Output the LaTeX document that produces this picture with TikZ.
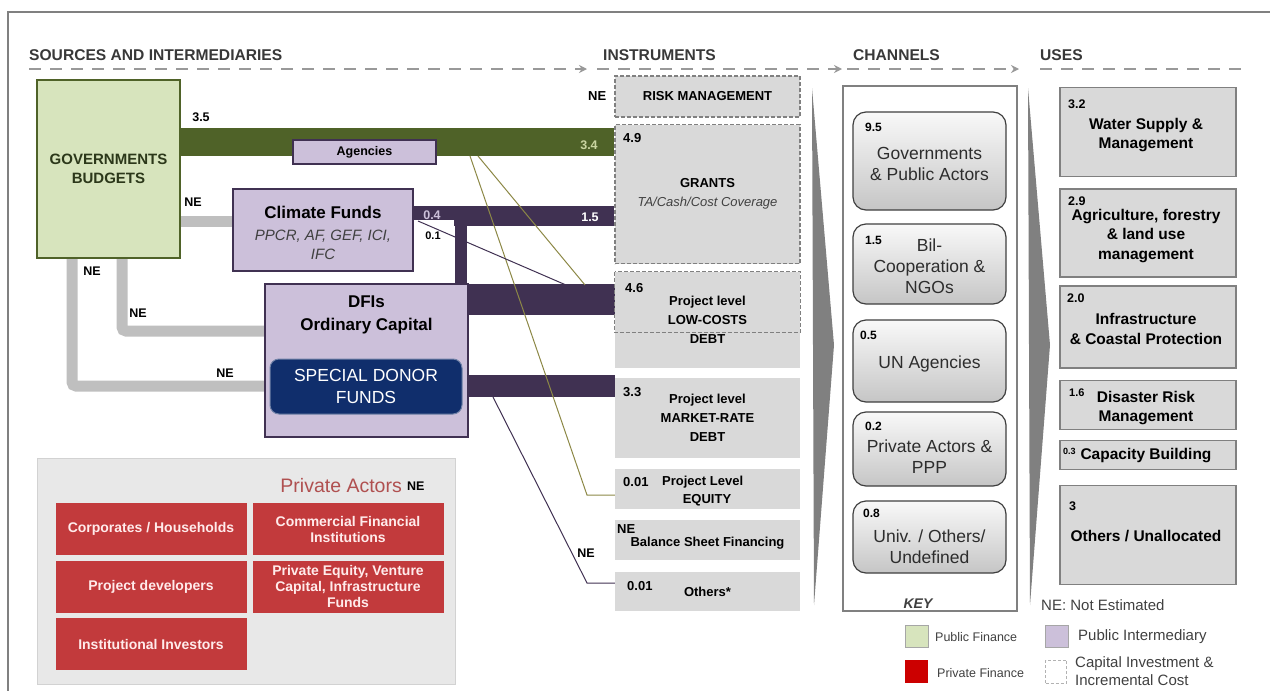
\documentclass[tikz,border=0pt]{standalone}
\usepackage{fontspec}
\setmainfont{Liberation Sans}
\usetikzlibrary{arrows.meta}
\usetikzlibrary{calc}
\usetikzlibrary{backgrounds}
\tikzset{>=latex}
\definecolor{govgreen}{RGB}{215,228,189}
\definecolor{govtext}{RGB}{44,56,26}
\definecolor{bandgreen}{RGB}{79,98,40}
\definecolor{lavender}{RGB}{204,192,218}
\definecolor{bandpurple}{RGB}{64,49,82}
\definecolor{donornavy}{RGB}{16,46,108}
\definecolor{privred}{RGB}{194,58,60}
\definecolor{privtitle}{RGB}{176,80,80}
\definecolor{panelgray}{RGB}{232,232,232}
\definecolor{instgray}{RGB}{217,217,217}
\definecolor{linkgray}{RGB}{191,191,191}
\definecolor{textgray}{RGB}{64,64,64}
\definecolor{chantext}{RGB}{45,45,45}
\definecolor{olivethin}{RGB}{140,136,70}
\tikzstyle{head}=[font=\fontsize{15.6}{18}\selectfont\bfseries, text=black!78, inner sep=0pt, anchor=west]
\tikzstyle{headline}=[draw=gray!80, line width=2.5pt, dash pattern=on 12pt off 9pt]
\tikzstyle{govbox}=[draw=bandgreen, line width=1.5pt, fill=govgreen, align=center, text=govtext, font=\fontsize{15}{19}\selectfont\bfseries]
\tikzstyle{interbox}=[draw=bandpurple, line width=1.5pt, fill=lavender, inner sep=0pt]
\tikzstyle{donorbox}=[draw=donornavy!60, line width=1pt, fill=donornavy, rounded corners=9pt, text=white, align=center, font=\fontsize{17.5}{22}\selectfont]
\tikzstyle{privpanel}=[fill=panelgray, draw=gray!35, line width=1pt]
\tikzstyle{redbox}=[fill=privred, minimum width=191, minimum height=52, text=white!92!red, align=center, inner sep=0pt, font=\fontsize{14}{16}\selectfont\bfseries]
\tikzstyle{instbox}=[fill=instgray, minimum width=185, align=center, inner sep=0pt, font=\fontsize{13}{19}\selectfont\bfseries]
\tikzstyle{dashbox}=[draw=gray, dash pattern=on 4pt off 2pt, line width=1.2pt]
\tikzstyle{chanframe}=[draw=gray, line width=1.5pt, fill=white]
\tikzstyle{chanbox}=[draw=darkgray, line width=1.2pt, rounded corners=13pt, top color=gray!5, bottom color=gray!45, minimum width=153, inner sep=0pt]
\tikzstyle{chantxt}=[align=center, text=chantext, inner sep=0pt, font=\fontsize{17.5}{21}\selectfont]
\tikzstyle{usebox}=[draw=gray, line width=1.8pt, fill=instgray, minimum width=176, inner sep=0pt]
\tikzstyle{usetxt}=[align=center, inner sep=0pt, font=\fontsize{15.5}{19.5}\selectfont\bfseries]
\tikzstyle{numlbl}=[font=\fontsize{13}{15}\selectfont\bfseries, inner sep=0pt, anchor=west]
\tikzstyle{nelbl}=[font=\fontsize{12.5}{15}\selectfont\bfseries, inner sep=0pt]
\tikzstyle{legtext}=[font=\fontsize{15}{18}\selectfont, text=textgray, inner sep=0pt, anchor=west]
\tikzstyle{greenband}=[draw=bandgreen, line width=28]
\tikzstyle{purpleband}=[draw=bandpurple]
\tikzstyle{graylink}=[draw=linkgray, line width=11, rounded corners=4]
\tikzstyle{oliveline}=[draw=olivethin, line width=1pt]
\tikzstyle{thinpurple}=[draw=bandpurple, line width=1pt]

\begin{document}
\begin{tikzpicture}[x=1pt,y=-1pt]
  \useasboundingbox (0,0) rectangle (1270,691);
  \draw[gray, line width=1.5pt] (8,691) -- (8,12) -- (1270,12);

  % headings
  \node[head] (hsrc) at (29,55) {SOURCES AND INTERMEDIARIES};
  \node[head] (hinst) at (603,55) {INSTRUMENTS};
  \node[head] (hchan) at (853,55) {CHANNELS};
  \node[head] (huse) at (1040,55) {USES};
  \coordinate (d0) at (29,69);
  \coordinate (d1) at (587,69);
  \coordinate (d2) at (597,69);
  \coordinate (d3) at (842,69);
  \coordinate (d4) at (847,69);
  \coordinate (d5) at (1019,69);
  \coordinate (d6) at (1040,69);
  \coordinate (d7) at (1242,69);
  \draw[headline,-{Stealth[length=8pt,width=8pt]}] (d0) -- (d1);
  \draw[headline,-{Stealth[length=8pt,width=8pt]}] (d2) -- (d3);
  \draw[headline,-{Stealth[length=8pt,width=8pt]}] (d4) -- (d5);
  \draw[headline] (d6) -- (d7);

  % sources and intermediaries
  \node[govbox, minimum width=143, minimum height=178] (gov) at (108.5,169) {GOVERNMENTS\\BUDGETS};
  \node[interbox, minimum width=143, minimum height=24, font=\fontsize{12.5}{15}\selectfont\bfseries] (agencies) at (364.5,152) {Agencies};
  \node[interbox, minimum width=180, minimum height=82] (cf) at (323,230) {};
  \node[font=\fontsize{17}{21}\selectfont\bfseries, inner sep=0pt] (cft) at (323,212) {Climate Funds};
  \node[font=\fontsize{15}{19}\selectfont\itshape, text=textgray, align=center, inner sep=0pt] (cfs) at (323,245) {PPCR, AF, GEF, ICI,\\IFC};
  \node[interbox, minimum width=203, minimum height=153] (dfi) at (366.5,360.5) {};
  \node[font=\fontsize{17}{23}\selectfont\bfseries, align=center, inner sep=0pt] (dfit) at (366.5,315) {DFIs\\Ordinary Capital};
  \node[donorbox, minimum width=192, minimum height=55] (sdf) at (366,386.5) {SPECIAL DONOR\\FUNDS};

  % private actors
  \node[privpanel, minimum width=418, minimum height=226] (priv) at (246,571) {};
  \node[font=\fontsize{19.5}{22}\selectfont, text=privtitle, inner sep=0pt, anchor=east] (privt) at (402,486) {Private Actors};
  \node[nelbl, anchor=west] (privne) at ($(privt.east)+(5,0)$) {NE};
  \node[redbox] (corp) at (151,529) {Corporates / Households};
  \node[redbox] (comm) at (348,529) {Commercial Financial\\Institutions};
  \node[redbox] (projdev) at (151,586.5) {Project developers};
  \node[redbox] (pe) at (348,586.5) {Private Equity, Venture\\Capital, Infrastructure\\Funds};
  \node[redbox] (inst) at (151,644) {Institutional Investors};

  % instruments
  \node[instbox, dashbox, minimum height=41] (risk) at (707.5,96.5) {RISK MANAGEMENT};
  \node[instbox, dashbox, minimum height=139] (grants) at (707.5,194) {GRANTS\\{\mdseries\itshape\color{textgray}TA/Cash/Cost Coverage}};
  \node[instbox, minimum height=96] (lowdebt) at (707.5,320) {Project level\\LOW-COSTS\\DEBT};
  \draw[dashbox] (lowdebt.north west) rectangle ($(lowdebt.north east)+(0,61)$);
  \node[instbox, minimum height=80] (mktdebt) at (707.5,418) {Project level\\MARKET-RATE\\DEBT};
  \node[instbox, minimum height=40] (equity) at (707.5,489) {};
  \node[instbox, minimum height=40] (balance) at (707.5,540) {};
  \node[instbox, minimum height=39] (others) at (707.5,591.5) {Others*};
  \node[font=\fontsize{13}{15}\selectfont\bfseries, inner sep=0pt] (tbal) at (707.5,543) {Balance Sheet Financing};
  \node[numlbl] (nrisk) at (588,96) {NE};
  \node[numlbl] (ngrants) at (623,138) {4.9};
  \node[numlbl] (nlow) at (625,288) {4.6};
  \node[numlbl] (nmkt) at (623,392) {3.3};
  \node[numlbl] (nequity) at (623,482) {0.01};
  \node[numlbl] (tequity) at (662,482) {Project Level};
  \node[font=\fontsize{13}{15}\selectfont\bfseries, inner sep=0pt] (tequity2) at (707,500) {EQUITY};
  \node[numlbl] (nbal) at (617,529) {NE};
  \node[numlbl] (nothers) at (627,586) {0.01};

  % channels
  \fill[gray] (812,88) -- (834,345) -- (814,605) -- cycle;
  \fill[gray] (1028,88) -- (1050,345) -- (1030,605) -- cycle;
  \node[chanframe, minimum width=174, minimum height=525] (chan) at (930,348.5) {};
  \node[chanbox, minimum height=98] (ch1) at (929.5,161) {};
  \node[chanbox, minimum height=80] (ch2) at (929.5,264) {};
  \node[chanbox, minimum height=82] (ch3) at (929.5,361) {};
  \node[chanbox, minimum height=74] (ch4) at (929.5,449) {};
  \node[chanbox, minimum height=72] (ch5) at (929.5,537) {};
  \node[chantxt] (tch1) at (929.5,164) {Governments\\\& Public Actors};
  \node[chantxt] (tch2) at (929.5,266) {Bil-\\Cooperation \&\\NGOs};
  \node[chantxt] (tch3) at (929.5,364) {UN Agencies};
  \node[chantxt] (tch4) at (929.5,457) {Private Actors \&\\PPP};
  \node[chantxt] (tch5) at (929.5,547) {Univ. / Others/\\Undefined};
  \node[numlbl, font=\fontsize{12}{14}\selectfont\bfseries] (nch1) at (865,127) {9.5};
  \node[numlbl, font=\fontsize{12}{14}\selectfont\bfseries] (nch2) at (865,240) {1.5};
  \node[numlbl, font=\fontsize{12}{14}\selectfont\bfseries] (nch3) at (860,335) {0.5};
  \node[numlbl, font=\fontsize{12}{14}\selectfont\bfseries] (nch4) at (865,426) {0.2};
  \node[numlbl, font=\fontsize{12}{14}\selectfont\bfseries] (nch5) at (863,513) {0.8};
  \node[font=\fontsize{14}{16}\selectfont\bfseries\itshape, text=textgray, inner sep=0pt] (key) at (918,604) {KEY};

  % uses
  \node[usebox, minimum height=89] (u1) at (1148,132) {};
  \node[usebox, minimum height=88] (u2) at (1148,233) {};
  \node[usebox, minimum height=82] (u3) at (1148,327) {};
  \node[usebox, minimum height=49] (u4) at (1148,405) {};
  \node[usebox, minimum height=29] (u5) at (1148,455) {};
  \node[usebox, minimum height=99] (u6) at (1148,535) {};
  \node[usetxt] (tu1) at (1146,135) {Water Supply \&\\Management};
  \node[usetxt] (tu2) at (1146,236) {Agriculture, forestry\\\& land use\\management};
  \node[usetxt] (tu3) at (1146,329) {Infrastructure\\\& Coastal Protection};
  \node[usetxt] (tu4) at (1146,408) {Disaster Risk\\Management};
  \node[usetxt] (tu5) at (1146,456) {Capacity Building};
  \node[usetxt] (tu6) at (1146,536) {Others / Unallocated};
  \node[numlbl, font=\fontsize{12.5}{14}\selectfont\bfseries] (nu1) at (1068,104) {3.2};
  \node[numlbl, font=\fontsize{12.5}{14}\selectfont\bfseries] (nu2) at (1068,201) {2.9};
  \node[numlbl, font=\fontsize{12.5}{14}\selectfont\bfseries] (nu3) at (1067,298) {2.0};
  \node[numlbl, font=\fontsize{11}{13}\selectfont\bfseries] (nu4) at (1069,393) {1.6};
  \node[numlbl, font=\fontsize{9}{11}\selectfont\bfseries] (nu5) at (1063,451) {0.3};
  \node[numlbl, font=\fontsize{12.5}{14}\selectfont\bfseries] (nu6) at (1069,506) {3};

  % key
  \node[legtext] (ne) at (1041,605) {NE: Not Estimated};
  \node[draw=gray!70, fill=govgreen, minimum width=23, minimum height=22, inner sep=0pt] (kpub) at (916.5,636) {};
  \node[legtext, font=\fontsize{12.5}{15}\selectfont] (tpub) at (935,637) {Public Finance};
  \node[draw=gray!70, fill=lavender, minimum width=23, minimum height=22, inner sep=0pt] (kint) at (1056.5,636) {};
  \node[legtext] (tint) at (1078,637) {Public Intermediary};
  \node[fill=red!80!black, minimum width=23, minimum height=23, inner sep=0pt] (kpriv) at (916.5,671.5) {};
  \node[legtext, font=\fontsize{12.5}{15}\selectfont] (tpriv) at (937,673) {Private Finance};
  \node[draw=gray!60, dash pattern=on 3pt off 2pt, minimum width=21, minimum height=23, inner sep=0pt] (kcap) at (1056,671.5) {};
  \node[legtext, align=left, font=\fontsize{15}{18}\selectfont] (tcap) at (1075,671) {Capital Investment \&\\Incremental Cost};

  % labels on the flows
  \node[nelbl] (l35) at (201,117.5) {3.5};
  \node[nelbl, text=govgreen!85!olive] (l34) at (589,145) {3.4};
  \node[nelbl] (lne1) at (193,202) {NE};
  \node[nelbl] (lne2) at (92,271) {NE};
  \node[nelbl] (lne3) at (138,313) {NE};
  \node[nelbl] (lne4) at (225,373) {NE};
  \node[nelbl, text=lavender] (l04) at (432,215) {0.4};
  \node[nelbl, text=white] (l15) at (590,217) {1.5};
  \node[nelbl, font=\fontsize{11}{13}\selectfont\bfseries] (l01) at (433,236) {0.1};
  \node[nelbl] (lne5) at (586,553) {NE};

  \begin{scope}[on background layer]
    % public budget flow
    \coordinate (gband) at (gov.east |- 0,142);
    \draw[greenband] (gband) -- (gband -| grants.west);
    % climate funds flows
    \coordinate (cfa) at (cf.east |- 0,213);
    \coordinate (cfb) at (454,216);
    \coordinate (cfv) at (461,212);
    \draw[purpleband, line width=14] (cfa) -- (cfa -| cfb);
    \draw[purpleband, line width=20] (cfb) -- (cfb -| grants.west);
    \draw[purpleband, line width=12] (cfv) -- (cfv |- dfi.north);
    % dfi flows
    \coordinate (dfa) at (dfi.east |- 0,299.5);
    \coordinate (dfb) at (dfi.east |- 0,386);
    \draw[purpleband, line width=31] (dfa) -- (dfa -| lowdebt.west);
    \draw[purpleband, line width=22] (dfb) -- (dfb -| mktdebt.west);
    % not estimated links
    \coordinate (gl) at (gov.east |- 0,221);
    \coordinate (gi) at (gov.south -| 122,0);
    \coordinate (go) at (gov.south -| 72,0);
    \draw[graylink] (gl) -- (gl -| cf.west);
    \draw[graylink] (gi) |- (dfi.west |- 0,331);
    \draw[graylink] (go) |- (dfi.west |- 0,386);
    % thin flows
    \coordinate (ta) at (470,156);
    \coordinate (tak) at (587,495);
    \coordinate (tb) at (478,156);
    \coordinate (tbk) at (585,285);
    \coordinate (tc) at (418,221);
    \coordinate (tck) at (566,285);
    \coordinate (td) at (493,397);
    \coordinate (tdk) at (587,583);
    \draw[oliveline] (ta) -- (tak) -- (tak -| equity.west);
    \draw[oliveline] (tb) -- (tbk);
    \draw[thinpurple] (tc) -- (tck);
    \draw[thinpurple] (td) -- (tdk) -- (tdk -| others.west);
  \end{scope}
\end{tikzpicture}
\end{document}
